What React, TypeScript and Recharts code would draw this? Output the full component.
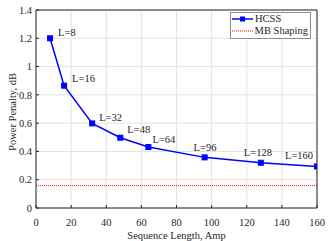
import { LineChart, Line, XAxis, YAxis, CartesianGrid, LabelList } from "recharts";

const LENGTHS = [8, 16, 32, 48, 64, 96, 128, 160];
const HCSS_PENALTY = [1.2, 0.865, 0.598, 0.497, 0.431, 0.358, 0.32, 0.294];
const MB_SHAPING_PENALTY = 0.158;
const X_TICKS = [0, 20, 40, 60, 80, 100, 120, 140, 160];
const Y_TICKS = [0, 0.2, 0.4, 0.6, 0.8, 1, 1.2, 1.4];

// label nudges in px, per point (MATLAB text() placement)
const LABEL_DX = [8, 8, 7, 7, 4, -11, -17, -32];
const LABEL_DY = [-6, -7, -6, -8, -8, -10, -10, -11];

const FONT = "'Liberation Serif', 'Times New Roman', serif";
const INK = "#262626";

const hcssData = LENGTHS.map((len, i) => ({ len, hcss: HCSS_PENALTY[i] }));
const mbData = [X_TICKS[0], X_TICKS[X_TICKS.length - 1]].map((len) => ({ len, mb: MB_SHAPING_PENALTY }));

const SquareDot = (props: any) => {
  const { cx, cy } = props;
  if (cx == null || cy == null) return null;
  return <rect x={cx - 2.5} y={cy - 2.5} width={5} height={5} fill="#0000ff" stroke="#0000ff" />;
};

const PointLabel = (props: any) => {
  const { x, y, index } = props;
  return (
    <text x={x + LABEL_DX[index]} y={y + LABEL_DY[index]} dy="0.35em" fontSize={10.5} fontFamily={FONT} fill={INK}>
      L={LENGTHS[index]}
    </text>
  );
};

const YTitle = (props: any) => {
  const { viewBox } = props;
  const cx = 12;
  const cy = viewBox.y + viewBox.height / 2 + 3;
  return (
    <text x={cx} y={cy} transform={`rotate(-90 ${cx} ${cy})`} textAnchor="middle" dy="0.35em"
      fontSize={10.5} fontFamily={FONT} fill={INK}>
      Power Penalty, dB
    </text>
  );
};

const LegendBox = () => (
  <div style={{
    position: "absolute", left: 230, top: 12, width: 76,
    border: "1px solid #8c8c8c", background: "#fff", fontFamily: FONT, fontSize: 10.5,
    color: INK, padding: "0px 2px 1px 1px", lineHeight: "12px",
  }}>
    <div style={{ display: "flex", alignItems: "center", gap: 2 }}>
      <svg width={21} height={8}>
        <line x1={0} y1={4} x2={21} y2={4} stroke="#0000ff" strokeWidth={1.5} />
        <rect x={8} y={1.5} width={5} height={5} fill="#0000ff" />
      </svg>
      <span>HCSS</span>
    </div>
    <div style={{ display: "flex", alignItems: "center", gap: 2 }}>
      <svg width={21} height={8}>
        <line x1={0} y1={4} x2={21} y2={4} stroke="#ff0000" strokeWidth={1} strokeDasharray="1 1" />
      </svg>
      <span style={{ whiteSpace: "nowrap" }}>MB Shaping</span>
    </div>
  </div>
);

export default function App() {
  const tickStyle = { fontSize: 10.5, fill: INK, fontFamily: FONT };
  return (
    <div style={{ position: "absolute", left: 0, top: 0, width: 329, height: 241, background: "#fff", fontFamily: FONT }}>
      <LineChart width={329} height={241} margin={{ top: 9, right: 11, bottom: 0, left: 0 }} style={{ fontFamily: FONT }}>
        <CartesianGrid xAxisId="b" yAxisId="l" stroke="#e3e3e3" strokeWidth={1} />
        <XAxis
          xAxisId="b" dataKey="len" type="number" domain={[0, 160]} ticks={X_TICKS}
          allowDataOverflow height={33} stroke={INK} tickSize={-3} tickMargin={14}
          tick={tickStyle}
          label={{ value: "Sequence Length, Amp", position: "insideBottom", offset: 2, fontSize: 10.5, fill: INK, fontFamily: FONT }}
        />
        <XAxis
          xAxisId="t" orientation="top" dataKey="len" type="number" domain={[0, 160]} ticks={X_TICKS}
          height={1} stroke={INK} tickSize={-3} tick={false}
        />
        <YAxis
          yAxisId="l" type="number" domain={[0, 1.4]} ticks={Y_TICKS} width={36}
          stroke={INK} tickSize={-3} tickMargin={7} tick={tickStyle}
          label={<YTitle />}
        />
        <YAxis
          yAxisId="r" orientation="right" type="number" domain={[0, 1.4]} ticks={Y_TICKS}
          width={1} stroke={INK} tickSize={-3} tick={false}
        />
        <Line
          xAxisId="b" yAxisId="l" data={mbData} dataKey="mb" name="MB Shaping" stroke="#ff0000"
          strokeWidth={1} strokeDasharray="1 1" dot={false} isAnimationActive={false}
        />
        <Line
          xAxisId="b" yAxisId="l" data={hcssData} dataKey="hcss" name="HCSS" stroke="#0000ff"
          strokeWidth={1.5} dot={<SquareDot />} isAnimationActive={false}
        >
          <LabelList dataKey="hcss" content={<PointLabel />} />
        </Line>
      </LineChart>
      <LegendBox />
    </div>
  );
}
